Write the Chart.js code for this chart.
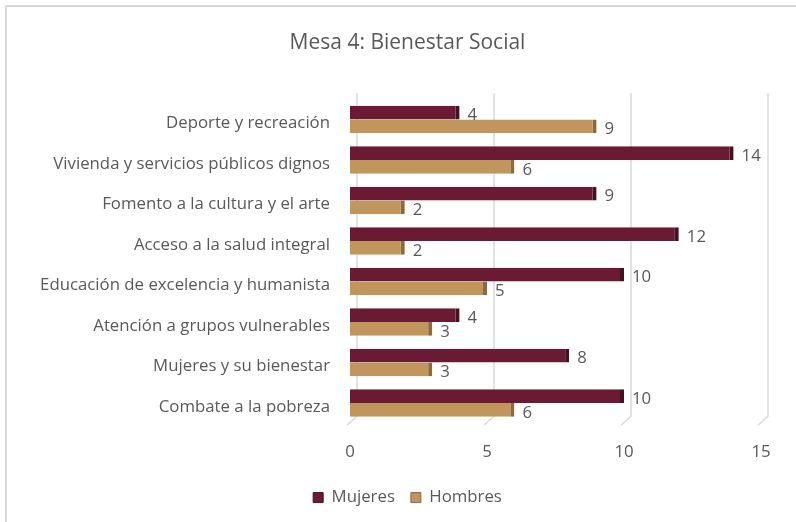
<!DOCTYPE html>
<html>
<head>
<meta charset="utf-8">
<script src="https://cdn.jsdelivr.net/npm/chart.js@4/dist/chart.umd.min.js"></script>
<style>
  html, body { margin: 0; padding: 0; background: #fff; }
  #wrap { width: 796px; height: 522px; }
</style>
</head>
<body>
<div id="wrap"><canvas id="mesaChart" width="796" height="522"></canvas></div>
<script>
// Datos de la grafica (de arriba hacia abajo)
const categorias = [
    'Deporte y recreación',
    'Vivienda y servicios públicos dignos',
    'Fomento a la cultura y el arte',
    'Acceso a la salud integral',
    'Educación de excelencia y humanista',
    'Atención a grupos vulnerables',
    'Mujeres y su bienestar',
    'Combate a la pobreza'
];
const mujeres = [4, 14, 9, 12, 10, 4, 8, 10];
const hombres = [9, 6, 2, 2, 5, 3, 3, 6];
const ticksX = [0, 5, 10, 15];

const colores = {
    mujeres: '#6a1a32',
    mujeresBorde: '#45101f',
    hombres: '#c0965c',
    hombresBorde: '#8c6a3a',
    texto: '#595959',
    grid: '#d9d9d9'
};

const FONT = '"Open Sans", Lato, sans-serif';

// Lineas de la "pared" 3D, marco y etiquetas de valor
const decoraciones = {
    id: 'decoraciones',
    afterLayout(chart) {
        // titulo y leyenda centrados como en el original (no sobre el eje)
        const shift = 27;
        [chart.titleBlock, chart.legend].forEach(box => {
            if (!box) return;
            box.left += shift;
            box.right += shift;
        });
    },
    beforeDraw(chart) {
        const ctx = chart.ctx;
        ctx.save();
        ctx.strokeStyle = colores.grid;
        ctx.lineWidth = 2;
        ctx.beginPath();
        ctx.moveTo(6, 522);
        ctx.lineTo(6, 6);
        ctx.lineTo(796, 6);
        ctx.stroke();
        ctx.restore();
    },
    beforeDatasetsDraw(chart) {
        const ctx = chart.ctx;
        const x = chart.scales.x;
        const area = chart.chartArea;
        ctx.save();
        ctx.strokeStyle = colores.grid;
        ctx.lineWidth = 1.5;
        ticksX.forEach(v => {
            const px = x.getPixelForValue(v);
            ctx.beginPath();
            ctx.moveTo(px + 7, area.top - 6);
            ctx.lineTo(px + 7, area.bottom - 7);
            ctx.lineTo(px - 3, area.bottom + 2);
            ctx.stroke();
        });
        ctx.restore();
    },
    afterDatasetsDraw(chart) {
        const ctx = chart.ctx;
        ctx.save();
        ctx.fillStyle = colores.texto;
        ctx.font = '16.8px ' + FONT;
        ctx.textAlign = 'left';
        ctx.textBaseline = 'middle';
        chart.data.datasets.forEach((ds, i) => {
            chart.getDatasetMeta(i).data.forEach((bar, j) => {
                ctx.fillText(String(ds.data[j]), bar.x + 8, bar.y + 3);
            });
        });
        ctx.restore();
    }
};

new Chart(document.getElementById('mesaChart').getContext('2d'), {
    type: 'bar',
    data: {
        labels: categorias,
        datasets: [
            {
                label: 'Mujeres',
                data: mujeres,
                backgroundColor: colores.mujeres,
                borderColor: colores.mujeresBorde,
                borderWidth: { right: 4, top: 0, bottom: 0, left: 0 },
                borderSkipped: false,
                categoryPercentage: 0.68,
                barPercentage: 1.0
            },
            {
                label: 'Hombres',
                data: hombres,
                backgroundColor: colores.hombres,
                borderColor: colores.hombresBorde,
                borderWidth: { right: 4, top: 0, bottom: 0, left: 0 },
                borderSkipped: false,
                categoryPercentage: 0.68,
                barPercentage: 1.0
            }
        ]
    },
    options: {
        indexAxis: 'y',
        responsive: false,
        animation: false,
        layout: { padding: { top: 20, right: 35, bottom: 6, left: 0 } },
        scales: {
            x: {
                min: 0,
                max: 15,
                grid: { display: false, drawTicks: false },
                border: { display: false },
                ticks: {
                    stepSize: 5,
                    padding: 19,
                    color: colores.texto,
                    font: { family: FONT, size: 16.8 }
                },
                afterFit: (scale) => { scale.height = 50; }
            },
            y: {
                grid: { display: false, drawTicks: false },
                border: { display: false },
                ticks: {
                    padding: 20,
                    labelOffset: 4,
                    color: colores.texto,
                    font: { family: FONT, size: 16.8 }
                },
                afterFit: (scale) => { scale.width = 350; }
            }
        },
        plugins: {
            title: {
                display: true,
                text: 'Mesa 4: Bienestar Social',
                color: colores.texto,
                font: { family: FONT, size: 21, weight: 'normal' },
                padding: { top: 10, bottom: 44 }
            },
            legend: {
                position: 'bottom',
                labels: {
                    color: colores.texto,
                    font: { family: FONT, size: 16.8 },
                    boxWidth: 10,
                    boxHeight: 10,
                    padding: 16
                }
            },
            tooltip: { enabled: false }
        }
    },
    plugins: [decoraciones]
});
</script>
</body>
</html>
